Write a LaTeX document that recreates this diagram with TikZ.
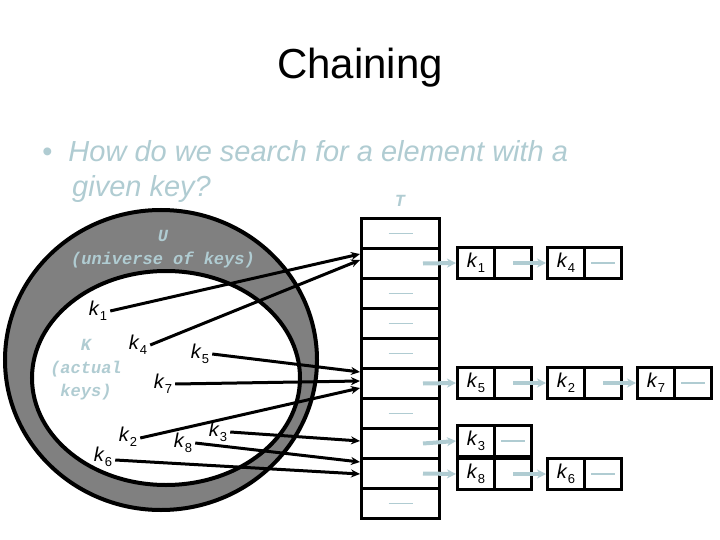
\documentclass[tikz,border=0pt]{standalone}
\usepackage{fontspec}
\setmainfont{Liberation Sans}
\newfontfamily\cour{Liberation Mono}
\newcommand{\kk}[1]{\textit{k}\raisebox{-0.45ex}{\fontsize{13}{14}\selectfont #1}}
\begin{document}
\begin{tikzpicture}[x=1pt,y=-1pt,
 lb/.style={inner sep=0pt,font=\fontsize{20}{22}\selectfont},
 cr/.style={inner sep=0pt,text=tcol,font=\cour\bfseries\itshape\fontsize{17}{23}\selectfont,align=center},
 blk/.style={line width=3pt,-{Stealth[length=9pt,width=8pt]}},
 lt/.style={line width=4pt,draw=tcol,-{Stealth[length=9pt,width=9pt]}},
 dsh/.style={line width=1.5pt,draw=tcol},
 cell/.style={draw,line width=3pt,minimum width=37pt,minimum height=31pt,inner sep=0pt,font=\fontsize{20}{22}\selectfont}]
\usetikzlibrary{arrows.meta}
\definecolor{tcol}{HTML}{B0CCD2}
\definecolor{ring}{HTML}{808080}
\useasboundingbox (0,0) rectangle (720,540);
\fill[white] (0,0) rectangle (720,540);
\node (title) at (360,68) {\fontsize{42}{46}\selectfont Chaining};
\node[anchor=west,text=tcol,inner sep=0pt,font=\itshape\fontsize{29}{33}\selectfont] (b1) at (42,151) {\textbullet\ \ How do we search for a element with a};
\node[anchor=west,text=tcol,inner sep=0pt,font=\itshape\fontsize{29}{33}\selectfont] (b2) at (72,189) {given key?};
% ellipses
\draw[line width=4pt,fill=ring] (161,360) ellipse [x radius=156,y radius=150];
\draw[line width=4pt,fill=white] (166,378) ellipse [x radius=134,y radius=107];
\node[cr] (U) at (163,236) {U};
\node[cr] (Ul) at (163,260) {(universe of keys)};
\node[cr] (K) at (86,370) {K\\(actual\\keys)};
\node[cr] (T) at (400,201) {T};
% table
\foreach \i in {0,...,9} {
  \node[draw,line width=3pt,minimum width=78pt,minimum height=30pt,inner sep=0pt,anchor=north west] (t\i) at (360,217+30*\i) {};
}
\foreach \i in {0,2,3,4,6,9} {\draw[dsh] ([xshift=-12pt]t\i.center) -- ([xshift=12pt]t\i.center);}
% key labels
\node[lb] (k1) at (98,311) {\kk{1}};
\node[lb] (k4) at (138,345) {\kk{4}};
\node[lb] (k5) at (200,354) {\kk{5}};
\node[lb] (k7) at (163,384) {\kk{7}};
\node[lb] (k2) at (128,437) {\kk{2}};
\node[lb] (k6) at (103,457) {\kk{6}};
\node[lb] (k8) at (183,443) {\kk{8}};
\node[lb] (k3) at (218,432) {\kk{3}};
\coordinate (e1) at (360,254); \coordinate (e4) at (360,260);
\coordinate (e5) at (360,372); \coordinate (e7) at (360,381); \coordinate (e2) at (360,388);
\coordinate (e3) at (360,441); \coordinate (e8) at (360,462); \coordinate (e6) at (360,474);
\draw[blk] ([xshift=3pt]k1.east) -- (e1);
\draw[blk] ([xshift=3pt]k4.east) -- (e4);
\draw[blk] ([xshift=3pt]k5.east) -- (e5);
\draw[blk] ([xshift=3pt]k7.east) -- (e7);
\draw[blk] ([xshift=3pt,yshift=-1pt]k2.east) -- (e2);
\draw[blk] ([xshift=3pt]k3.east) -- (e3);
\draw[blk] ([xshift=3pt]k8.east) -- (e8);
\draw[blk] ([xshift=3pt,yshift=-3pt]k6.east) -- (e6);
% list cells
\newcommand{\lcell}[4]{%
 \node[cell,anchor=north west] (#1a) at (#2,#3) {\kk{#4}};
 \node[cell,anchor=north west] (#1b) at (#2+37,#3) {};}
\lcell{a}{456}{246}{1}
\lcell{b}{546}{246}{4}
\lcell{c}{456}{366}{5}
\lcell{d}{546}{366}{2}
\lcell{e}{636}{366}{7}
\lcell{f}{456}{424}{3}
\lcell{g}{456}{457}{8}
\lcell{h}{546}{457}{6}
\foreach \n in {b,e,f,h} {\draw[dsh] ([xshift=-12pt]\n b.center) -- ([xshift=12pt]\n b.center);}
\draw[lt] ([xshift=-18pt]t1.east) -- (aa.west);
\draw[lt] ([xshift=-18pt]t5.east) -- (ca.west);
\draw[lt] ([xshift=-18pt]t7.east) -- (fa.west);
\draw[lt] ([xshift=-18pt]t8.east) -- (ga.west);
\draw[lt] (ab.center) -- (ba.west);
\draw[lt] (cb.center) -- (da.west);
\draw[lt] (db.center) -- (ea.west);
\draw[lt] (gb.center) -- (ha.west);
\end{tikzpicture}
\end{document}
